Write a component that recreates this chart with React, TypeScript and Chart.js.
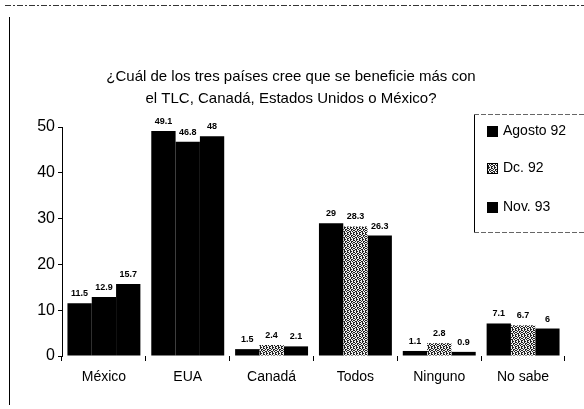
import React, { useEffect, useRef } from "react";
import { Chart, registerables } from "chart.js";

Chart.register(...registerables);

const categories = ["México", "EUA", "Canadá", "Todos", "Ninguno", "No sabe"];
const seriesNames = ["Agosto 92", "Dc. 92", "Nov. 93"];
const agosto92 = [11.5, 49.1, 1.5, 29, 1.1, 7.1];
const dic92 = [12.9, 46.8, 2.4, 28.3, 2.8, 6.7];
const nov93 = [15.7, 48, 2.1, 26.3, 0.9, 6];
const yTicks = [0, 10, 20, 30, 40, 50];
const titleLines = [
  "¿Cuál de los tres países cree que se beneficie más con",
  "el TLC, Canadá, Estados Unidos o México?",
];

const FONT = '"Liberation Sans Narrow", "Liberation Sans", Arial, sans-serif';

function makePattern(): CanvasPattern | string {
  const c = document.createElement("canvas");
  c.width = 6;
  c.height = 6;
  const g = c.getContext("2d");
  if (!g) return "#777";
  const cells = [
    1, 0, 1, 0, 0, 1,
    0, 1, 0, 1, 1, 0,
    1, 0, 0, 1, 0, 1,
    0, 1, 1, 0, 1, 0,
    1, 0, 1, 0, 0, 1,
    0, 0, 1, 1, 0, 1,
  ];
  for (let i = 0; i < 36; i++) {
    g.fillStyle = cells[i] ? "#222" : "#f0f0f0";
    g.fillRect(i % 6, Math.floor(i / 6), 1, 1);
  }
  const ctx = document.createElement("canvas").getContext("2d");
  return (ctx && ctx.createPattern(c, "repeat")) || "#777";
}

export default function App() {
  const ref = useRef<HTMLCanvasElement | null>(null);

  useEffect(() => {
    if (!ref.current) return;
    const pattern = makePattern();
    const midColors = categories.map((_, i) => (i < 2 ? "#000" : pattern));

    const decorPlugin = {
      id: "decor",
      afterDraw(chart: any) {
        const ctx = chart.ctx as CanvasRenderingContext2D;
        ctx.save();
        // frame
        ctx.strokeStyle = "#333";
        ctx.lineWidth = 1;
        ctx.setLineDash([6, 2, 2, 2]);
        ctx.beginPath();
        ctx.moveTo(5, 5.5);
        ctx.lineTo(584, 5.5);
        ctx.stroke();
        ctx.setLineDash([]);
        ctx.strokeStyle = "#000";
        ctx.beginPath();
        ctx.moveTo(9.5, 17);
        ctx.lineTo(9.5, 405);
        ctx.stroke();

        // title
        ctx.fillStyle = "#000";
        ctx.font = `15px ${FONT}`;
        ctx.textAlign = "center";
        ctx.textBaseline = "middle";
        ctx.fillText(titleLines[0], 291, 77);
        ctx.fillText(titleLines[1], 291, 99);

        // value labels
        ctx.font = `bold 9px ${FONT}`;
        ctx.textBaseline = "bottom";
        chart.data.datasets.forEach((ds: any, di: number) => {
          const meta = chart.getDatasetMeta(di);
          meta.data.forEach((el: any, i: number) => {
            ctx.fillText(String(ds.data[i]), el.x, el.y - 5);
          });
        });

        // legend box
        ctx.fillStyle = "#fff";
        ctx.fillRect(474, 114, 110, 118);
        ctx.strokeStyle = "#000";
        ctx.beginPath();
        ctx.moveTo(474.5, 114);
        ctx.lineTo(474.5, 233);
        ctx.stroke();
        ctx.setLineDash([5, 2]);
        ctx.strokeStyle = "#666";
        ctx.beginPath();
        ctx.moveTo(474, 114.5);
        ctx.lineTo(584, 114.5);
        ctx.moveTo(474, 232.5);
        ctx.lineTo(584, 232.5);
        ctx.stroke();
        ctx.setLineDash([]);
        const ys = [131, 168, 207];
        const fills: any[] = ["#000", pattern, "#000"];
        ctx.font = `14px ${FONT}`;
        ctx.textAlign = "left";
        ctx.textBaseline = "middle";
        seriesNames.forEach((n, i) => {
          ctx.fillStyle = fills[i];
          ctx.fillRect(487, ys[i] - 5, 11, 11);
          ctx.strokeStyle = "#000";
          ctx.strokeRect(487.5, ys[i] - 4.5, 10, 10);
          ctx.fillStyle = "#000";
          ctx.fillText(n, 503, ys[i]);
        });
        ctx.restore();
      },
    };

    const chart = new Chart(ref.current, {
      type: "bar",
      data: {
        labels: categories,
        datasets: [
          { label: seriesNames[0], data: agosto92, backgroundColor: "#000" },
          { label: seriesNames[1], data: dic92, backgroundColor: midColors as any },
          { label: seriesNames[2], data: nov93, backgroundColor: "#000" },
        ],
      },
      options: {
        responsive: false,
        animation: false,
        devicePixelRatio: 1,
        layout: { padding: { left: 0, right: 19, top: 127, bottom: 0 } },
        datasets: { bar: { categoryPercentage: 0.87, barPercentage: 1, borderWidth: 0 } },
        plugins: { legend: { display: false }, tooltip: { enabled: false }, title: { display: false } },
        scales: {
          x: {
            grid: { drawOnChartArea: false, drawTicks: true, tickLength: 5, color: "#000", offset: true },
            border: { display: false },
            ticks: { color: "#000", font: { family: FONT, size: 14 }, padding: 8 },
            afterFit(scale: any) {
              scale.height = 53;
            },
          },
          y: {
            min: 0,
            max: 50,
            afterBuildTicks(scale: any) {
              scale.ticks = yTicks.map((v) => ({ value: v }));
            },
            grid: { drawOnChartArea: false, drawTicks: true, tickLength: 4, color: "#000" },
            border: { display: true, color: "#000", width: 1 },
            ticks: { color: "#000", font: { family: FONT, size: 16 }, padding: 3 },
            afterFit(scale: any) {
              scale.width = 62;
            },
          },
        },
      },
      plugins: [decorPlugin],
    });
    return () => chart.destroy();
  }, []);

  return (
    <div style={{ position: "absolute", left: 0, top: 0, width: 584, height: 409, background: "#fff" }}>
      <canvas ref={ref} width={584} height={409} />
    </div>
  );
}
